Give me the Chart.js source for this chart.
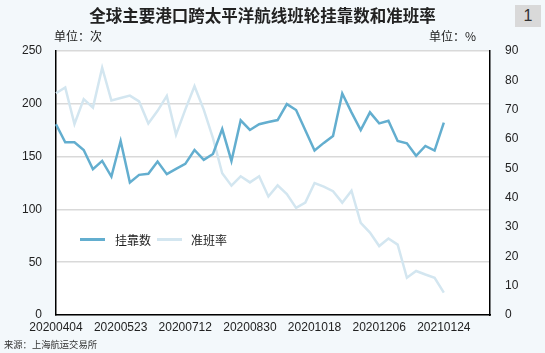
<!DOCTYPE html>
<html>
<head>
<meta charset="UTF-8">
<title>全球主要港口跨太平洋航线班轮挂靠数和准班率</title>
<script src="https://cdn.jsdelivr.net/npm/chart.js"></script>
<style>
  body { margin: 0; background: #f3f8fb; }
  #wrap { position: relative; width: 545px; height: 353px; overflow: hidden; }
  #chart { position: absolute; left: 0; top: 0; }
  .txt { position: absolute; font-family: "Noto Sans CJK SC", sans-serif; color: #222; white-space: nowrap; }
  #title { left: 0; width: 525px; top: 3px; text-align: center; font-size: 16.5px; font-weight: bold; line-height: 24px; }
  #badge { left: 515px; top: 5px; width: 26px; height: 22px; background: #d9d9d9; text-align: center; font-family: "Liberation Sans", Arial, sans-serif; font-size: 16px; line-height: 22px; color: #333; }
  #unitL { left: 54px; top: 28px; font-size: 12px; line-height: 16px; }
  #unitR { left: 429px; top: 28px; font-size: 12px; line-height: 16px; }
  #source { left: 4px; top: 337px; font-size: 9.3px; line-height: 14px; color: #333; }
  #legend { left: 80px; top: 230px; font-size: 12px; line-height: 16px; }
  #legend span { display: inline-block; vertical-align: middle; }
  .swatch { width: 25px; height: 3px; }
</style>
</head>
<body>
<div id="wrap">
  <canvas id="chart" width="545" height="353"></canvas>
  <div class="txt" id="title">全球主要港口跨太平洋航线班轮挂靠数和准班率</div>
  <div class="txt" id="badge">1</div>
  <div class="txt" id="unitL">单位：次</div>
  <div class="txt" id="unitR">单位：%</div>
  <div class="txt" id="legend">
    <span class="swatch" style="background:#63aecf"></span><span style="margin:0 6px 0 10px">挂靠数</span><span class="swatch" style="background:#d3e6f0"></span><span style="margin-left:9px">准班率</span>
  </div>
  <div class="txt" id="source">来源：上海航运交易所</div>
</div>

<script>
// weekly dates (axis runs a few weeks past the last observation)
var dates = [
    '20200404', '20200411', '20200418', '20200425', '20200502', '20200509', '20200516',
    '20200523', '20200530', '20200606', '20200613', '20200620', '20200628', '20200705',
    '20200712', '20200719', '20200726', '20200802', '20200809', '20200816', '20200823',
    '20200830', '20200906', '20200913', '20200920', '20200927', '20201004', '20201011',
    '20201018', '20201025', '20201101', '20201108', '20201115', '20201122', '20201129',
    '20201206', '20201213', '20201220', '20201227', '20210103', '20210110', '20210117',
    '20210124', '20210131', '20210207', '20210214', '20210221', '20210228'
];

// labels actually printed on the x axis
var tickLabels = ['20200404', '20200523', '20200712', '20200830', '20201018', '20201206', '20210124'];

// 挂靠数 (left axis, 次)
var callCount = [
    180.6, 163.6, 163.6, 156.3, 138.1, 145.9, 131.1, 164.8, 125.5, 132.7, 133.7,
    145.3, 133.4, 138.4, 143.1, 156.3, 146.9, 152.5, 176.1, 145.9, 184.3, 175.2,
    180.6, 182.7, 184.6, 199.7, 194.1, 175.0, 155.7, 163.0, 169.5, 209.8, 191.9,
    175.2, 191.9, 181.5, 184.0, 164.8, 162.6, 150.7, 160.1, 155.7, 182.1
];

// 准班率 (right axis, %)
var onTimeRate = [
    75.6, 77.6, 65.1, 73.6, 70.7, 84.3, 73.1, 74.0, 74.8, 72.8, 65.3,
    69.6, 74.7, 61.5, 70.0, 78.0, 70.0, 60.3, 48.3, 44.1, 47.3, 45.2,
    47.3, 40.4, 44.2, 41.2, 36.5, 38.3, 45.0, 43.8, 42.2, 38.3, 42.4,
    31.4, 28.1, 23.5, 26.1, 24.0, 12.7, 15.0, 13.8, 12.7, 7.6
];

// white plot area on the pale page background
var plotBg = {
    id: 'plotBg',
    beforeDraw: function (chart) {
        var ctx = chart.ctx, a = chart.chartArea;
        ctx.save();
        ctx.fillStyle = '#ffffff';
        ctx.fillRect(a.left, a.top, a.right - a.left, a.bottom - a.top);
        ctx.restore();
    }
};

var tickFont = { family: '"Liberation Sans", Arial, sans-serif', size: 12 };

new Chart(document.getElementById('chart'), {
    type: 'line',
    data: {
        labels: dates,
        datasets: [{
            label: '挂靠数',
            data: callCount,
            yAxisID: 'y',
            borderColor: '#63aecf',
            borderWidth: 2.5,
            pointRadius: 0,
            tension: 0
        }, {
            label: '准班率',
            data: onTimeRate,
            yAxisID: 'y1',
            borderColor: '#d3e6f0',
            borderWidth: 2.5,
            pointRadius: 0,
            tension: 0
        }]
    },
    options: {
        responsive: false,
        animation: false,
        layout: { padding: { top: 51, left: 0, right: 0, bottom: 0 } },
        plugins: {
            legend: { display: false },
            tooltip: { enabled: false }
        },
        scales: {
            x: {
                grid: { display: false, drawTicks: false },
                border: { color: '#000', width: 1.5 },
                ticks: {
                    autoSkip: false,
                    maxRotation: 0,
                    padding: 5,
                    color: '#222',
                    font: tickFont,
                    callback: function (value, index) {
                        var l = dates[index];
                        return tickLabels.indexOf(l) >= 0 ? l : '';
                    }
                },
                afterFit: function (scale) { scale.height = 38; }
            },
            y: {
                position: 'left',
                min: 0,
                max: 250,
                ticks: { stepSize: 50, padding: 14, color: '#222', font: tickFont },
                grid: { color: '#d9d9d9', lineWidth: 1.5, drawTicks: false },
                border: { color: '#000', width: 1.5 },
                afterFit: function (scale) { scale.width = 56; }
            },
            y1: {
                position: 'right',
                min: 0,
                max: 90,
                ticks: { stepSize: 10, padding: 15, color: '#222', font: tickFont },
                grid: { drawOnChartArea: false, drawTicks: false },
                border: { color: '#000', width: 1.5 },
                afterFit: function (scale) { scale.width = 55; }
            }
        }
    },
    plugins: [plotBg]
});
</script>
</body>
</html>
